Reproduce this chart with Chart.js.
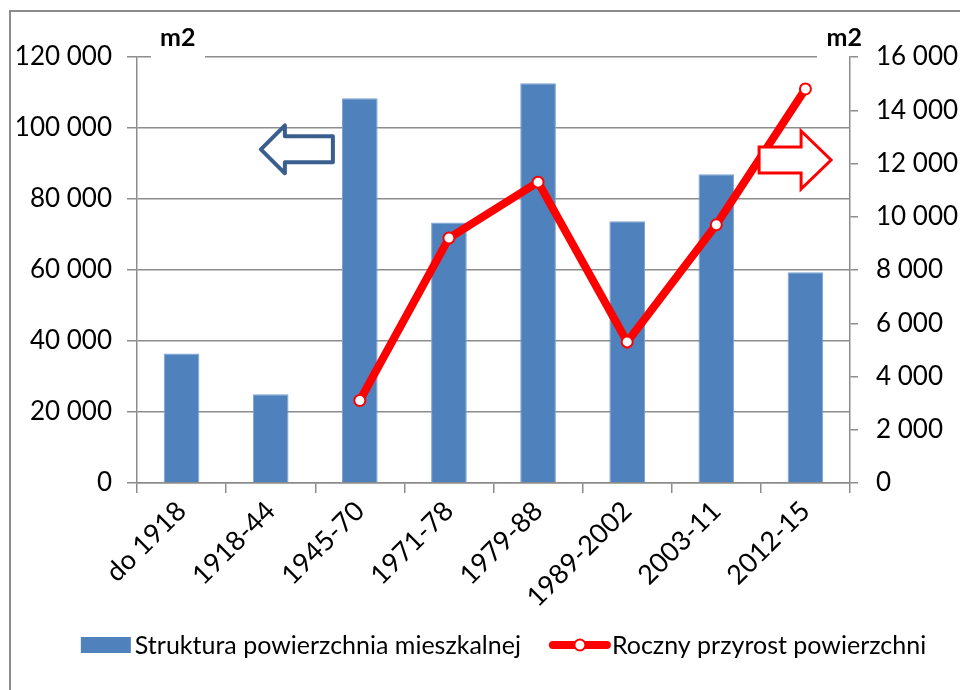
<!DOCTYPE html>
<html>
<head>
<meta charset="utf-8">
<script src="https://cdn.jsdelivr.net/npm/chart.js@4/dist/chart.umd.min.js"></script>
<style>
    html, body { margin: 0; padding: 0; background: #fff; }
    #wrap { position: relative; width: 960px; height: 690px; }
</style>
</head>
<body>
<div id="wrap"><canvas id="chart1"></canvas></div>
<script>
const categories = ["do 1918", "1918-44", "1945-70", "1971-78", "1979-88", "1989-2002", "2003-11", "2012-15"];
const livingArea = [36500, 25000, 108400, 73400, 112600, 73700, 87000, 59400];
const annualGrowth = [null, null, 3100, 9200, 11300, 5300, 9700, 14800];
const leftTicks = [0, 20000, 40000, 60000, 80000, 100000, 120000];
const rightTicks = [0, 2000, 4000, 6000, 8000, 10000, 12000, 14000, 16000];
const unitLabel = "m2";

const FONT = "Lato";
const gridColor = "#8c8c8c";

const fmt = (v) => String(v).replace(/\B(?=(\d{3})+(?!\d))/g, " ");

// border, "m2" labels, arrows, legend
const extras = {
    id: "extras",
    beforeDraw(chart) {
        const ctx = chart.ctx;
        ctx.save();
        ctx.strokeStyle = "#8c8c8c";
        ctx.lineWidth = 2;
        ctx.strokeRect(10, 11, 960, 690);
        ctx.restore();
    },
    afterDraw(chart) {
        const ctx = chart.ctx;
        const xs = chart.scales.x;
        const yl = chart.scales.y;
        const yr = chart.scales.y1;
        const area = chart.chartArea;
        const step = xs.getPixelForValue(1) - xs.getPixelForValue(0);
        ctx.save();

        // units, with white box over the top gridline
        ctx.fillStyle = "#fff";
        ctx.fillRect(area.left + 14, 20, 54, area.top - 19);
        ctx.fillRect(area.right - 33, 20, 32, area.top - 19);
        ctx.fillStyle = "#000";
        ctx.font = "bold 25px " + FONT;
        ctx.textBaseline = "middle";
        ctx.textAlign = "left";
        ctx.fillText(unitLabel, area.left + 23, 38);
        ctx.textAlign = "right";
        ctx.fillText(unitLabel, area.right + 12, 38);

        // blue arrow pointing left (to left axis)
        const bx = xs.getPixelForValue(0) + step * 0.89;
        const by = yl.getPixelForValue(94000);
        ctx.beginPath();
        ctx.moveTo(bx, by);
        ctx.lineTo(bx + 24, by - 24);
        ctx.lineTo(bx + 24, by - 13);
        ctx.lineTo(bx + 72, by - 13);
        ctx.lineTo(bx + 72, by + 13);
        ctx.lineTo(bx + 24, by + 13);
        ctx.lineTo(bx + 24, by + 24);
        ctx.closePath();
        ctx.fillStyle = "#fff";
        ctx.fill();
        ctx.lineJoin = "round";
        ctx.lineWidth = 4;
        ctx.strokeStyle = "#3a5f8e";
        ctx.stroke();

        // red arrow pointing right (to right axis)
        const rx = xs.getPixelForValue(6) + step * 0.48;
        const ry = yr.getPixelForValue(12130);
        ctx.beginPath();
        ctx.moveTo(rx, ry - 13);
        ctx.lineTo(rx + 42, ry - 13);
        ctx.lineTo(rx + 42, ry - 29);
        ctx.lineTo(rx + 72, ry);
        ctx.lineTo(rx + 42, ry + 29);
        ctx.lineTo(rx + 42, ry + 13);
        ctx.lineTo(rx, ry + 13);
        ctx.closePath();
        ctx.fillStyle = "#fff";
        ctx.fill();
        ctx.lineJoin = "miter";
        ctx.lineWidth = 3;
        ctx.strokeStyle = "#ff0000";
        ctx.stroke();

        // legend
        const ds = chart.data.datasets;
        ctx.font = "25px " + FONT;
        ctx.textAlign = "left";
        ctx.textBaseline = "middle";
        const w1 = ctx.measureText(ds[0].label).width;
        const w2 = ctx.measureText(ds[1].label).width;
        const total = 50 + 4 + w1 + 28 + 62 + w2;
        let lx = 503 - total / 2;
        const ly = 645;
        ctx.fillStyle = ds[0].backgroundColor;
        ctx.fillRect(lx, ly - 8, 50, 16);
        ctx.fillStyle = "#000";
        ctx.fillText(ds[0].label, lx + 54, ly + 1);
        lx += 54 + w1 + 28;
        ctx.strokeStyle = ds[1].borderColor;
        ctx.lineWidth = 8;
        ctx.lineCap = "round";
        ctx.beginPath();
        ctx.moveTo(lx + 4, ly);
        ctx.lineTo(lx + 58, ly);
        ctx.stroke();
        ctx.beginPath();
        ctx.arc(lx + 31, ly, 5.5, 0, Math.PI * 2);
        ctx.fillStyle = "#fff";
        ctx.fill();
        ctx.lineWidth = 2;
        ctx.stroke();
        ctx.fillStyle = "#000";
        ctx.fillText(ds[1].label, lx + 63, ly + 1);

        ctx.restore();
    },
};

const ctx = document.getElementById("chart1").getContext("2d");

new Chart(ctx, {
    type: "bar",
    data: {
        labels: categories,
        datasets: [
            {
                label: "Struktura powierzchnia mieszkalnej",
                data: livingArea,
                yAxisID: "y",
                backgroundColor: "#4f81bd",
                borderColor: "#7ea3cf",
                borderWidth: { top: 1, left: 1, right: 1, bottom: 0 },
                categoryPercentage: 1,
                barPercentage: 0.4,
                order: 2,
            },
            {
                type: "line",
                label: "Roczny przyrost powierzchni",
                data: annualGrowth,
                yAxisID: "y1",
                borderColor: "#ff0000",
                borderWidth: 8,
                pointRadius: 5.5,
                pointBorderWidth: 2,
                pointBackgroundColor: "#ffffff",
                pointBorderColor: "#ff0000",
                tension: 0,
                order: 1,
            },
        ],
    },
    options: {
        responsive: true,
        maintainAspectRatio: false,
        animation: false,
        layout: {
            padding: { top: 57, left: 0, right: 0, bottom: 80 },
        },
        plugins: {
            legend: { display: false },
            tooltip: { enabled: false },
        },
        scales: {
            x: {
                offset: true,
                afterFit: (scale) => { scale.height = 127; },
                border: { color: gridColor, width: 1.5 },
                grid: {
                    offset: true,
                    drawOnChartArea: false,
                    tickLength: 10,
                    color: gridColor,
                    lineWidth: 1.5,
                },
                ticks: {
                    color: "#000",
                    font: { family: FONT, size: 27 },
                    maxRotation: 45,
                    minRotation: 45,
                    padding: 2,
                    autoSkip: false,
                },
            },
            y: {
                position: "left",
                min: 0,
                max: leftTicks[leftTicks.length - 1],
                afterFit: (scale) => { scale.width = 137; },
                afterBuildTicks: (scale) => { scale.ticks = leftTicks.map((v) => ({ value: v })); },
                border: { color: gridColor, width: 1.5 },
                grid: {
                    color: gridColor,
                    lineWidth: 1.5,
                    tickLength: 10,
                },
                ticks: {
                    color: "#000",
                    font: { family: FONT, size: 26 },
                    padding: 15,
                    callback: (v) => fmt(v),
                },
            },
            y1: {
                position: "right",
                min: 0,
                max: rightTicks[rightTicks.length - 1],
                afterFit: (scale) => { scale.width = 110; },
                afterBuildTicks: (scale) => { scale.ticks = rightTicks.map((v) => ({ value: v })); },
                border: { color: gridColor, width: 1.5 },
                grid: {
                    drawOnChartArea: false,
                    color: gridColor,
                    lineWidth: 1.5,
                    tickLength: 8,
                },
                ticks: {
                    color: "#000",
                    font: { family: FONT, size: 26 },
                    padding: 18,
                    callback: (v) => fmt(v),
                },
            },
        },
    },
    plugins: [extras],
});
</script>
</body>
</html>
